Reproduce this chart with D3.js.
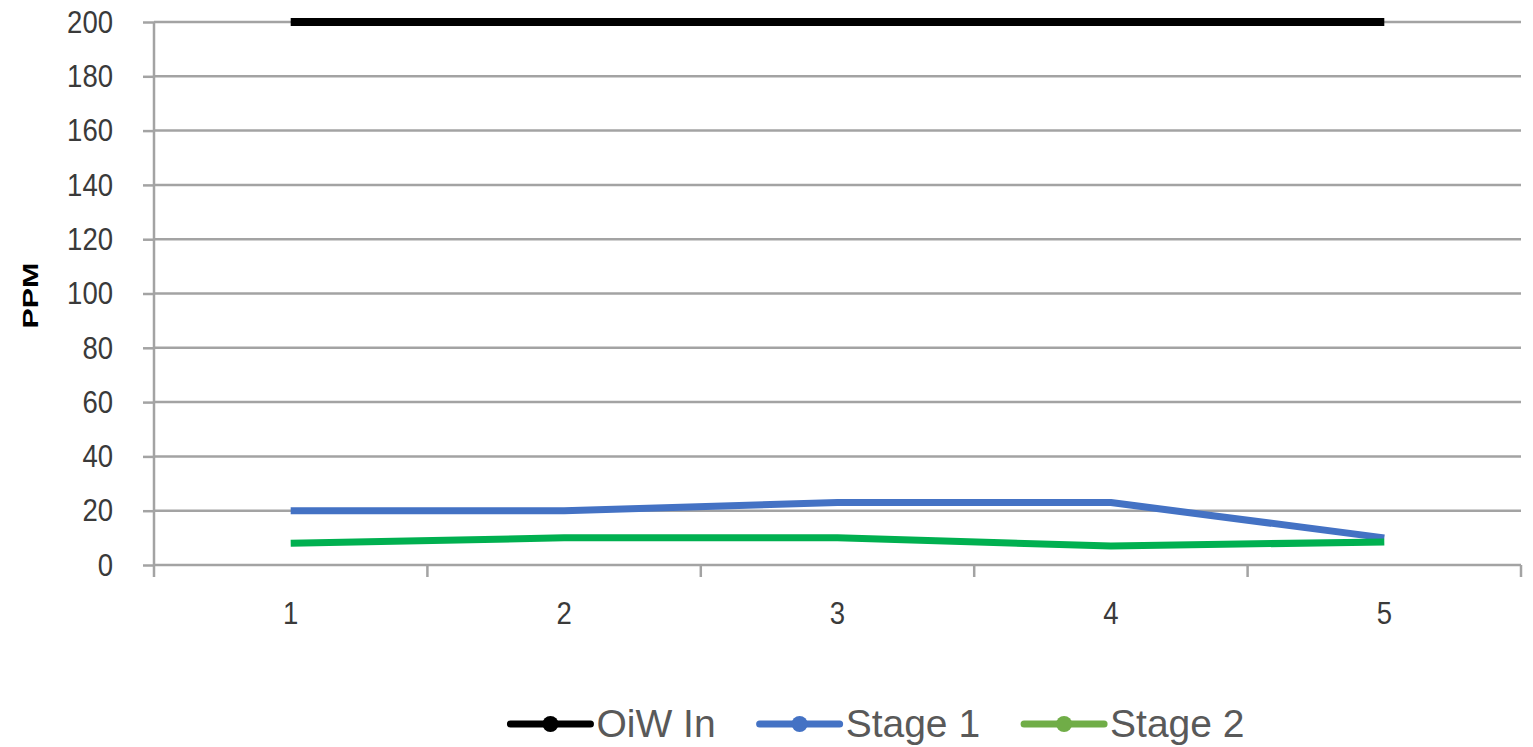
<!DOCTYPE html>
<html>
<head>
<meta charset="utf-8">
<script src="https://cdn.jsdelivr.net/npm/d3@7"></script>
<style>
  html, body { margin: 0; padding: 0; background: #fff; }
  svg { display: block; }
</style>
</head>
<body>
<svg id="chart" width="1533" height="747"></svg>
<script>
// Oil-in-water concentration per sample, by treatment stage
const samples = ["1", "2", "3", "4", "5"];
const oiwIn  = [200, 200, 200, 200, 200];
const stage1 = [20, 20, 23, 23, 10];
const stage2 = [8, 10, 10, 7, 8.5];
const yTicks = [0, 20, 40, 60, 80, 100, 120, 140, 160, 180, 200];
const seriesNames = ["OiW In", "Stage 1", "Stage 2"];

const series = [
  { name: seriesNames[0], values: oiwIn,  line: "#000000", key: "#000000", width: 8 },
  { name: seriesNames[1], values: stage1, line: "#4472C4", key: "#4472C4", width: 7 },
  { name: seriesNames[2], values: stage2, line: "#00B050", key: "#70AD47", width: 7 }
];

const svg = d3.select("#chart");
const plot = { left: 154, right: 1521, top: 22, bottom: 565 };

const x = d3.scaleBand().domain(samples).range([plot.left, plot.right]).padding(0);
const y = d3.scaleLinear().domain([0, 200]).range([plot.bottom, plot.top]);

const gridColor = "#a3a3a3";
const textColor = "#3a3a3a";
const tickFont = "'Liberation Sans', Arial, sans-serif";

// Condense tick labels horizontally
function condense(sel, k) {
  sel.each(function () {
    const w = this.getComputedTextLength();
    d3.select(this).attr("textLength", w * k).attr("lengthAdjust", "spacingAndGlyphs");
  });
}

// Horizontal gridlines with short ticks left of the axis
const yAxis = svg.append("g")
  .attr("transform", `translate(${plot.left},0)`)
  .call(d3.axisLeft(y).tickValues(yTicks).tickSize(11).tickPadding(30).tickFormat(d3.format("d")));
yAxis.select(".domain").remove();
yAxis.selectAll(".tick line").attr("stroke", gridColor).attr("stroke-width", 2.5);
yAxis.selectAll(".tick text")
  .attr("fill", textColor)
  .style("font-family", tickFont)
  .style("font-size", "32px")
  .call(condense, 0.86);

svg.append("g")
  .selectAll("line")
  .data(yTicks)
  .join("line")
  .attr("x1", plot.left).attr("x2", plot.right)
  .attr("y1", d => y(d)).attr("y2", d => y(d))
  .attr("stroke", gridColor).attr("stroke-width", 2.5);

// Vertical axis line
svg.append("line")
  .attr("x1", plot.left).attr("x2", plot.left)
  .attr("y1", plot.top).attr("y2", plot.bottom + 12)
  .attr("stroke", gridColor).attr("stroke-width", 2.5);

// Category axis: ticks on band boundaries, labels at band centres
const xAxis = svg.append("g")
  .attr("transform", `translate(0,${plot.bottom})`)
  .call(d3.axisBottom(x).tickSize(0).tickPadding(36));
xAxis.select(".domain").remove();
xAxis.selectAll(".tick text")
  .attr("fill", textColor)
  .style("font-family", tickFont)
  .style("font-size", "32px")
  .call(condense, 0.86);

const boundaries = samples.map(s => x(s) + x.bandwidth());
svg.append("g")
  .selectAll("line")
  .data(boundaries)
  .join("line")
  .attr("x1", d => d).attr("x2", d => d)
  .attr("y1", plot.bottom).attr("y2", plot.bottom + 12)
  .attr("stroke", gridColor).attr("stroke-width", 2.5);

// Y axis title
svg.append("text")
  .attr("transform", `translate(38,${(plot.top + plot.bottom) / 2 + 2}) rotate(-90)`)
  .attr("text-anchor", "middle")
  .attr("textLength", 66)
  .attr("lengthAdjust", "spacingAndGlyphs")
  .attr("fill", "#000")
  .style("font-family", "'Liberation Sans', Arial, sans-serif")
  .style("font-weight", "bold")
  .style("font-size", "22px")
  .text("PPM");

// Series lines
const line = d3.line()
  .x((d, i) => x(samples[i]) + x.bandwidth() / 2)
  .y(d => y(d));

svg.append("g")
  .selectAll("path")
  .data(series)
  .join("path")
  .attr("d", d => line(d.values))
  .attr("fill", "none")
  .attr("stroke", d => d.line)
  .attr("stroke-width", d => d.width)
  .attr("stroke-linejoin", "round");

// Legend
const legend = svg.append("g");
const legendY = 724;
const keyLen = 80, keyGap = 6, itemGap = 44;
const items = legend.selectAll("g").data(series).join("g");
items.append("line")
  .attr("x1", 0).attr("x2", keyLen)
  .attr("y1", legendY).attr("y2", legendY)
  .attr("stroke", d => d.key).attr("stroke-width", 7).attr("stroke-linecap", "round");
items.append("circle")
  .attr("cx", keyLen / 2).attr("cy", legendY).attr("r", 8)
  .attr("fill", d => d.key);
items.append("text")
  .attr("x", keyLen + keyGap).attr("y", legendY + 13)
  .attr("fill", "#595959")
  .style("font-family", "'Liberation Sans', Arial, sans-serif")
  .style("font-size", "39px")
  .text(d => d.name);

let offset = 0;
const widths = [];
items.each(function () {
  const w = keyLen + keyGap + d3.select(this).select("text").node().getComputedTextLength();
  widths.push(w);
});
const total = d3.sum(widths) + itemGap * (widths.length - 1);
const start = 877.5 - total / 2;
items.attr("transform", (d, i) => {
  const tx = start + offset;
  offset += widths[i] + itemGap;
  return `translate(${tx},0)`;
});
</script>
</body>
</html>
